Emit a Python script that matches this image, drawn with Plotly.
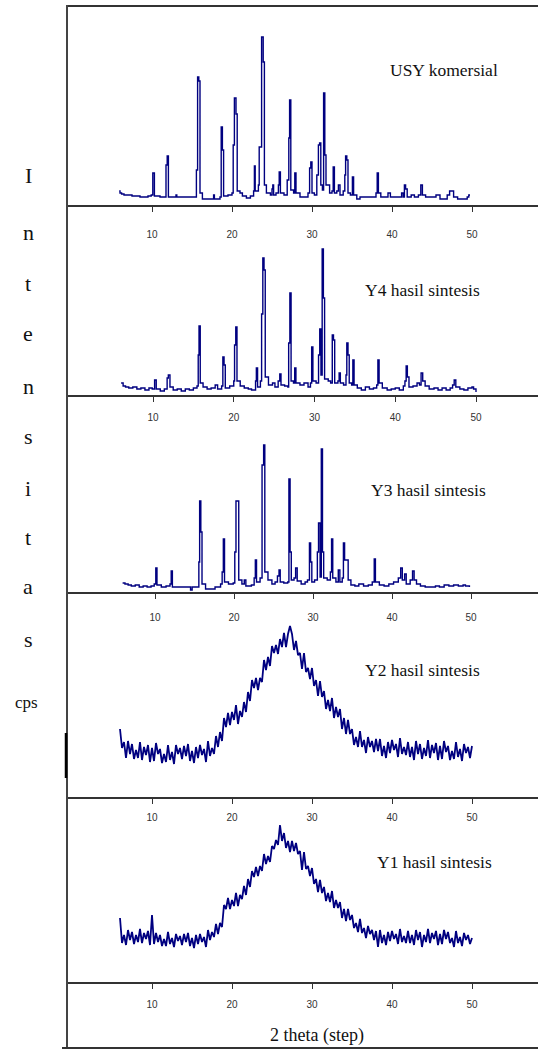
import plotly.graph_objects as go

# ---------------- data (intensity in arbitrary units, 2-theta in degrees) ----------------
usy_2theta = [5.9, 6.0, 6.2, 6.5, 7.0, 7.5, 8.0, 8.5, 9.0, 9.5, 9.9, 10.1, 10.3, 11.0, 11.6, 11.75, 11.9, 12.05,
              12.9, 13.0, 13.1, 14.0, 15.0, 15.4, 15.55, 15.7, 15.85, 16.0, 16.3, 17.0, 17.6, 17.7, 17.8, 18.5,
              18.65, 18.8, 18.95, 19.5, 20.0, 20.15, 20.3, 20.5, 20.65, 21.0, 21.3, 21.8, 22.3, 22.7, 22.8, 22.9,
              23.3, 23.4, 23.55, 23.7, 23.9, 24.05, 24.3, 24.8, 25.0, 25.1, 25.2, 25.5, 25.8, 25.9, 26.05, 26.5,
              26.9, 27.1, 27.2, 27.35, 27.7, 27.85, 28.0, 28.5, 29.0, 29.5, 29.7, 29.85, 30.0, 30.3, 30.6, 30.8,
              30.95, 31.1, 31.3, 31.45, 31.6, 31.75, 32.2, 32.5, 32.65, 32.8, 33.1, 33.3, 33.5, 33.9, 34.1, 34.2,
              34.35, 34.5, 34.8, 35.05, 35.2, 35.6, 36.0, 36.5, 37.0, 37.6, 38.0, 38.15, 38.3, 38.6, 39.2, 39.5,
              39.8, 40.5, 41.0, 41.2, 41.4, 41.55, 41.7, 41.9, 42.4, 42.8, 43.3, 43.6, 43.8, 44.2, 45.0, 45.5,
              46.0, 46.5, 46.9, 47.2, 47.5, 47.7, 48.2, 49.0, 49.4, 49.6, 49.75]
usy_int = [14, 12, 11, 10, 10, 9, 9, 8, 8, 9, 10, 32, 9, 8, 8, 40, 49, 8,
           8, 10, 8, 8, 8, 8, 35, 128, 124, 12, 6, 6, 6, 10, 6, 8,
           78, 55, 9, 10, 12, 60, 107, 91, 14, 12, 9, 7, 9, 14, 39, 14,
           20, 58, 58, 168, 143, 20, 12, 10, 16, 20, 10, 12, 20, 33, 12, 10,
           25, 67, 105, 15, 12, 32, 12, 8, 8, 12, 37, 43, 12, 10, 30, 60,
           62, 20, 15, 112, 50, 20, 12, 14, 38, 12, 14, 20, 10, 14, 30, 49,
           45, 12, 10, 28, 10, 6, 8, 8, 8, 8, 12, 32, 12, 8, 8, 12,
           8, 8, 8, 12, 8, 20, 16, 8, 10, 8, 10, 20, 10, 8, 8, 10,
           6, 6, 10, 14, 14, 8, 6, 6, 8, 10, 10]

y4_2theta = [6.05, 6.3, 6.6, 7.0, 7.5, 8.0, 8.5, 9.0, 9.5, 9.9, 10.2, 10.4, 10.9, 11.4, 11.75, 11.9, 12.1, 12.5,
             13.0, 13.5, 14.0, 14.5, 15.0, 15.45, 15.6, 15.7, 15.85, 16.2, 16.7, 17.2, 17.7, 18.0, 18.5, 18.65,
             18.8, 18.95, 19.5, 20.0, 20.1, 20.25, 20.4, 20.8, 21.3, 21.8, 22.2, 22.7, 22.8, 22.95, 23.3, 23.45,
             23.6, 23.75, 23.9, 24.3, 24.8, 25.1, 25.5, 25.7, 25.85, 26.3, 26.7, 26.8, 26.95, 27.1, 27.4, 27.55,
             27.7, 28.2, 28.7, 29.2, 29.5, 29.65, 29.8, 30.2, 30.5, 30.65, 30.8, 30.95, 31.1, 31.25, 31.7, 32.0,
             32.2, 32.35, 32.5, 32.9, 33.05, 33.2, 33.6, 33.9, 34.0, 34.15, 34.3, 34.6, 34.75, 34.9, 35.3, 35.8,
             36.3, 36.8, 37.3, 37.7, 37.85, 38.0, 38.4, 39.0, 39.5, 40.0, 40.5, 41.0, 41.2, 41.35, 41.5, 41.7,
             42.2, 42.7, 43.0, 43.2, 43.4, 43.7, 44.2, 44.8, 45.3, 45.8, 46.3, 46.8, 47.1, 47.3, 47.5, 48.0,
             48.5, 49.0, 49.5, 49.7, 50.0]
y4_int = [12, 9, 8, 7, 8, 6, 7, 5, 7, 6, 15, 6, 4, 6, 17, 20, 8, 5,
          6, 4, 6, 5, 7, 9, 40, 69, 12, 8, 6, 7, 10, 6, 9, 38,
          30, 7, 9, 14, 50, 68, 14, 9, 7, 6, 5, 14, 27, 8, 14, 81,
          137, 125, 18, 10, 12, 8, 14, 21, 10, 9, 8, 52, 102, 14, 12, 27,
          12, 10, 12, 8, 12, 48, 14, 12, 40, 66, 20, 146, 97, 16, 14, 12,
          60, 55, 12, 14, 22, 12, 10, 20, 52, 40, 12, 10, 35, 10, 7, 5,
          8, 6, 7, 10, 35, 12, 7, 5, 6, 7, 5, 9, 14, 29, 18, 8,
          9, 12, 10, 22, 14, 9, 6, 7, 5, 7, 5, 7, 10, 15, 8, 6,
          5, 7, 8, 6, 3]

y3_2theta = [5.9, 6.2, 6.6, 7.0, 7.5, 8.0, 8.5, 9.0, 9.5, 9.9, 10.1, 10.25, 10.8, 11.4, 11.9, 12.05, 12.2, 13.0,
             14.0, 14.5, 14.7, 15.4, 15.55, 15.65, 15.8, 15.95, 16.4, 17.2, 17.6, 18.3, 18.5, 18.65, 18.8, 19.3,
             19.9, 20.1, 20.25, 20.45, 20.6, 21.0, 21.3, 21.5, 22.2, 22.55, 22.7, 22.85, 23.3, 23.55, 23.75, 23.9,
             24.3, 24.8, 25.2, 25.5, 25.7, 25.85, 26.3, 26.8, 26.95, 27.1, 27.25, 27.6, 27.8, 28.0, 28.5, 29.0,
             29.3, 29.55, 29.7, 29.85, 30.2, 30.55, 30.7, 30.9, 31.05, 31.2, 31.35, 31.8, 32.2, 32.35, 32.5, 32.9,
             33.2, 33.4, 33.7, 33.85, 34.0, 34.3, 34.45, 34.8, 35.3, 35.8, 36.4, 37.0, 37.5, 37.75, 37.9, 38.4,
             39.0, 39.6, 40.2, 40.8, 41.1, 41.3, 41.6, 41.8, 42.3, 42.6, 42.8, 43.1, 43.6, 44.2, 44.8, 45.5,
             46.0, 46.6, 47.2, 47.8, 48.4, 49.0, 49.3, 49.8]
y3_int = [9, 8, 7, 6, 7, 5, 6, 5, 6, 8, 24, 7, 5, 6, 8, 21, 5, 5,
          5, 2, 5, 5, 30, 91, 60, 8, 3, 3, 5, 8, 20, 53, 10, 8,
          9, 40, 91, 91, 12, 8, 12, 6, 7, 14, 32, 10, 14, 127, 147, 20,
          12, 8, 10, 16, 22, 10, 9, 10, 113, 40, 12, 14, 24, 11, 8, 10,
          12, 49, 30, 10, 12, 40, 69, 15, 143, 40, 14, 12, 20, 53, 14, 10,
          22, 10, 14, 49, 32, 32, 12, 7, 6, 8, 6, 7, 10, 33, 10, 7,
          6, 8, 10, 14, 24, 12, 18, 8, 12, 21, 12, 8, 6, 5, 5, 6,
          5, 7, 6, 7, 6, 7, 6, 5]

# amorphous samples: recorded every 0.25 degree from 6.00 to 50.00 (4 readings per degree)
amorph_start = 6.0
amorph_step = 0.25
y2_int = [68, 49, 55, 39,  56, 43, 53, 38,  47, 39, 55, 37,  50, 42, 52, 35,
          49, 36, 54, 43,  48, 34, 43, 35,  52, 37, 45, 33,  52, 43, 49, 38,
          51, 41, 53, 36,  46, 34, 50, 39,  52, 42, 48, 35,  56, 41, 49, 43,
          61, 50, 65, 56,  79, 70, 84, 72,  85, 77, 92, 73,  86, 80, 95, 85,
          105, 96, 117, 109,  119, 107, 119, 115,  137, 127, 140, 131,  151, 144, 152, 143,
          158, 150, 164, 150,  163, 171, 163, 147,  156, 142, 144, 128,  144, 125, 129, 118,
          129, 111, 117, 101,  116, 100, 106, 88,  97, 86, 99, 79,  90, 80, 88, 68,
          79, 63, 77, 63,  68, 52, 60, 50,  66, 50, 57, 44,  60, 50, 56, 45,
          58, 46, 58, 41,  51, 39, 55, 44,  57, 47, 53, 40,  59, 43, 50, 42,
          55, 40, 50, 37,  56, 43, 53, 38,  49, 41, 57, 39,  52, 44, 54, 37,
          51, 38, 56, 45,  51, 37, 46, 38,  55, 40, 48, 36,  53, 44, 50, 39,
          51]
y1_int = [64, 39, 47, 37,  52, 42, 50, 38,  47, 40, 53, 39,  49, 43, 51, 37,
          67, 38, 49, 40,  47, 36, 43, 36,  50, 38, 44, 35,  48, 41, 46, 37,
          48, 40, 49, 36,  44, 34, 47, 38,  48, 40, 45, 35,  52, 42, 50, 45,
          58, 48, 59, 55,  77, 73, 84, 73,  82, 76, 89, 76,  87, 83, 96, 87,
          103, 95, 111, 105,  115, 106, 116, 111,  128, 118, 126, 120,  136, 133, 142, 137,
          157, 141, 149, 134,  141, 130, 141, 131,  139, 128, 131, 112,  130, 113, 116, 106,
          114, 98, 103, 90,  102, 89, 95, 81,  89, 80, 91, 74,  82, 74, 80, 64,
          73, 61, 73, 62,  67, 54, 59, 50,  63, 49, 54, 44,  56, 48, 52, 42,
          51, 35, 52, 39,  47, 37, 50, 41,  51, 43, 48, 38,  53, 40, 46, 39,
          51, 39, 47, 37,  52, 42, 50, 35,  47, 40, 53, 39,  49, 43, 51, 37,
          48, 38, 52, 43,  50, 39, 44, 35,  51, 39, 45, 36,  49, 42, 47, 38,
          44]
amorph_2theta = [amorph_start + amorph_step * i for i in range(len(y2_int))]

sample_labels = ["USY komersial", "Y4 hasil sintesis", "Y3 hasil sintesis", "Y2 hasil sintesis", "Y1 hasil sintesis"]
tick_values = [10, 20, 30, 40, 50]
tick_labels = ["10", "20", "30", "40", "50"]
y_letters = ["I", "n", "t", "e", "n", "s", "i", "t", "a", "s"]
x_title = "2 theta (step)"

# ---------------- layout geometry (pixels) ----------------
W, H = 538, 1050
TOP, BOTTOM = 7, 1048
LEFT = 67
panel_tops = [7, 205, 395, 592, 797]
panel_bots = [205, 395, 592, 797, 982]
# pixel position of 2-theta 10 and 50 on each panel
x_pix = [(152, 472), (153, 476), (155, 471), (152, 472), (152, 472)]
label_standoff = [14, 7, 10, 5, 7]
label_pos = [(444, 70), (422, 290), (428, 490), (422, 670), (434, 862)]
letter_y = [175, 233, 283, 333, 386, 436, 488, 537, 587, 639]

plot_h = BOTTOM - TOP
plot_w = W - LEFT


def fy(py):
    return (BOTTOM - py) / plot_h


def fx(px):
    return (px - LEFT) / plot_w


series = [(usy_2theta, usy_int, "hv", 1.4), (y4_2theta, y4_int, "hv", 1.4), (y3_2theta, y3_int, "hv", 1.4),
          (amorph_2theta, y2_int, "linear", 1.8), (amorph_2theta, y1_int, "linear", 1.8)]

NAVY = "#000080"
SERIF = "Liberation Serif"
fig = go.Figure()
layout = {}
for i, (xs, ys, shp, lw) in enumerate(series):
    n = "" if i == 0 else str(i + 1)
    fig.add_trace(go.Scatter(x=xs, y=ys, mode="lines", line=dict(color=NAVY, width=lw, shape=shp),
                             xaxis="x" + n, yaxis="y" + n, showlegend=False, hoverinfo="skip"))
    p10, p50 = x_pix[i]
    scale = (p50 - p10) / 40.0
    x0 = 10 - (p10 - LEFT) / scale
    x1 = x0 + plot_w / scale
    layout["xaxis" + n] = dict(
        domain=[0, 1], anchor="y" + n, range=[x0, x1], showline=True, linecolor="#333333", linewidth=1.6,
        mirror=(i == 0), ticks="outside", ticklen=5, tickwidth=1, tickcolor="#333333",
        tickvals=tick_values, ticktext=tick_labels, showgrid=False, zeroline=False,
        tickfont=dict(family="Liberation Sans", size=10, color="#333333"),
        ticklabelstandoff=label_standoff[i], fixedrange=True)
    ph = panel_bots[i] - panel_tops[i]
    layout["yaxis" + n] = dict(domain=[fy(panel_bots[i]), fy(panel_tops[i])], anchor="x" + n,
                               range=[0, ph], visible=False, fixedrange=True)

annotations = []
for i, lab in enumerate(sample_labels):
    px, py = label_pos[i]
    annotations.append(dict(text=lab, xref="paper", yref="paper", x=fx(px), y=fy(py), showarrow=False,
                            xanchor="center", yanchor="middle",
                            font=dict(family=SERIF, size=17.5, color="#111111")))
for ch, py in zip(y_letters, letter_y):
    annotations.append(dict(text=ch, xref="paper", yref="paper", x=fx(28), y=fy(py), showarrow=False,
                            xanchor="center", yanchor="middle",
                            font=dict(family=SERIF, size=22, color="#111111")))
annotations.append(dict(text="cps", xref="paper", yref="paper", x=fx(26), y=fy(702), showarrow=False,
                        xanchor="center", yanchor="middle",
                        font=dict(family=SERIF, size=17, color="#111111")))
annotations.append(dict(text=x_title, xref="paper", yref="paper", x=fx(317), y=fy(1035), showarrow=False,
                        xanchor="center", yanchor="middle",
                        font=dict(family=SERIF, size=18, color="#111111")))

shapes = [
    dict(type="line", xref="paper", yref="paper", x0=0, x1=0, y0=0, y1=fy(5),
         line=dict(color="#444444", width=2)),
    dict(type="line", xref="paper", yref="paper", x0=fx(62), x1=1, y0=0, y1=0,
         line=dict(color="#333333", width=2)),
    dict(type="line", xref="paper", yref="paper", x0=fx(66), x1=fx(66), y0=fy(778), y1=fy(733),
         line=dict(color="#000000", width=2.5)),
]

fig.update_layout(width=W, height=H, margin=dict(l=LEFT, r=0, t=TOP, b=H - BOTTOM),
                  paper_bgcolor="white", plot_bgcolor="white", annotations=annotations, shapes=shapes,
                  **layout)
fig.write_html("out.html", config={"displayModeBar": False},
               post_script="document.body.style.margin='0';document.body.style.padding='0';")
